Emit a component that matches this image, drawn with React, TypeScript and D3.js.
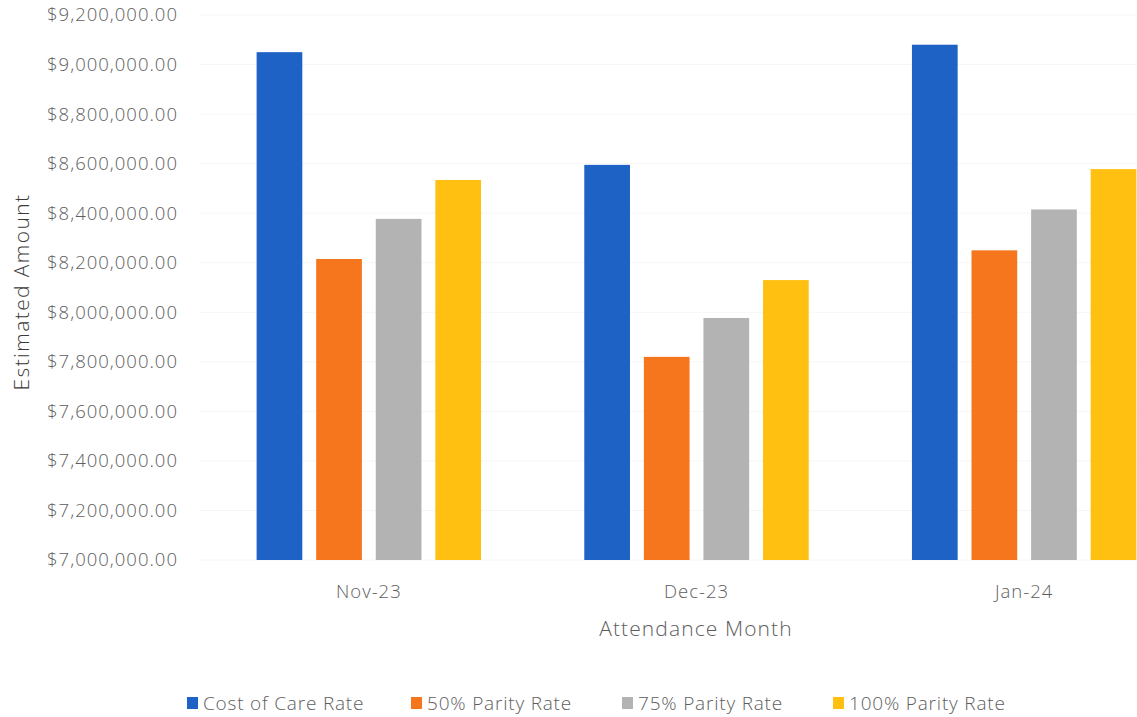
import React from 'react';
import * as d3 from 'd3';

const months = ['Nov-23', 'Dec-23', 'Jan-24'];
const seriesNames = ['Cost of Care Rate', '50% Parity Rate', '75% Parity Rate', '100% Parity Rate'];
const costOfCare = [9050000, 8595000, 9080000];
const parity50 = [8215000, 7820000, 8250000];
const parity75 = [8377000, 7977000, 8415000];
const parity100 = [8534000, 8130000, 8578000];
const yTicks = [7000000, 7200000, 7400000, 7600000, 7800000, 8000000, 8200000, 8400000, 8600000, 8800000, 9000000, 9200000];
const colors = ['#1f62c6', '#f5761c', '#b3b3b3', '#ffc012'];

const W = 1137;
const H = 717;
const font = "'Open Sans', 'Noto Sans', sans-serif";

export default function App() {
  const values = [costOfCare, parity50, parity75, parity100];

  const y = d3.scaleLinear().domain([7000000, 9200000]).range([560, 15]);
  const x0 = d3.scaleBand<string>()
    .domain(months)
    .range([205, 1188])
    .paddingInner(0.315)
    .paddingOuter(0.1575);
  const x1 = d3.scaleBand<string>()
    .domain(seriesNames)
    .range([0, x0.bandwidth()])
    .paddingInner(0.233);

  const fmt = d3.format('$,.2f');

  // legend item x positions (square left edges)
  const legendX = [187, 411, 622, 833];

  return (
    <svg width={W} height={H} style={{ position: 'absolute', left: 0, top: 0, background: '#fff' }}>
      <rect width={W} height={H} fill="#fff" />
      {yTicks.map(t => (
        <g key={t}>
          <line x1={200} x2={W} y1={y(t)} y2={y(t)} stroke="#f6f6f6" strokeWidth={1} />
          <text x={178} y={y(t)} dy="0.35em" textAnchor="end" fontFamily={font} fontSize={18.5}
            letterSpacing={1} fontWeight={300} fill="#5e5e5e">{fmt(t)}</text>
        </g>
      ))}
      {months.map((m, i) => (
        <g key={m} transform={`translate(${x0(m)},0)`}>
          {seriesNames.map((s, j) => (
            <rect key={s} x={x1(s)} y={y(values[j][i])} width={x1.bandwidth()}
              height={y(7000000) - y(values[j][i])} fill={colors[j]} />
          ))}
          <text x={x0.bandwidth() / 2} y={592} dy="0.35em" textAnchor="middle" fontFamily={font}
            fontSize={18.5} letterSpacing={1} fontWeight={300} fill="#5e5e5e">{m}</text>
        </g>
      ))}
      <text transform="translate(22,292) rotate(-90)" textAnchor="middle" dy="0.35em" fontFamily={font}
        fontSize={21} letterSpacing={1.4} fontWeight={300} fill="#3a3a3a">Estimated Amount</text>
      <text x={696} y={629} dy="0.35em" textAnchor="middle" fontFamily={font} fontSize={21}
        letterSpacing={1.1} fontWeight={300} fill="#5e5e5e">Attendance Month</text>
      {seriesNames.map((s, j) => (
        <g key={s} transform={`translate(${legendX[j]},703)`}>
          <rect x={0} y={-6} width={11} height={12} fill={colors[j]} />
          <text x={16} y={0} dy="0.35em" fontFamily={font} fontSize={19} letterSpacing={0.8}
            fontWeight={300} fill="#5e5e5e">{s}</text>
        </g>
      ))}
    </svg>
  );
}
